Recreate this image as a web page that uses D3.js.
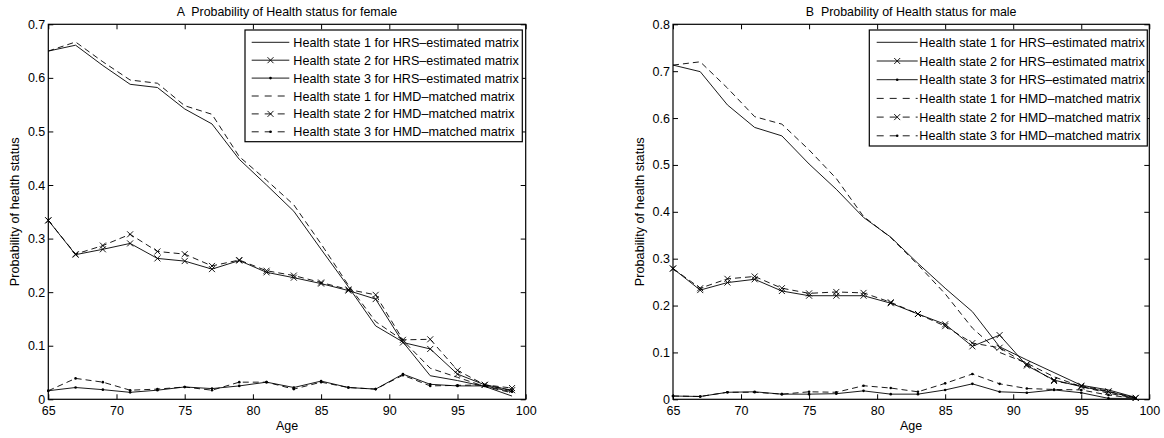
<!DOCTYPE html>
<html>
<head>
<meta charset="utf-8">
<script src="https://cdn.jsdelivr.net/npm/d3@7"></script>
<style>
  html, body { margin: 0; padding: 0; background: #fff; }
  svg { display: block; font-family: "Liberation Sans", Arial, Helvetica, sans-serif; }
</style>
</head>
<body>
<svg id="chart" width="1164" height="438"></svg>
<script>
// ---------------- data ----------------
const ages = [65, 67, 69, 71, 73, 75, 77, 79, 81, 83, 85, 87, 89, 91, 93, 95, 97, 99];
const xTicks = [65, 70, 75, 80, 85, 90, 95, 100];
const yTicksFemale = [0, 0.1, 0.2, 0.3, 0.4, 0.5, 0.6, 0.7];
const yTicksMale = [0, 0.1, 0.2, 0.3, 0.4, 0.5, 0.6, 0.7, 0.8];

const seriesNames = [
  "Health state 1 for HRS\u2013estimated matrix",
  "Health state 2 for HRS\u2013estimated matrix",
  "Health state 3 for HRS\u2013estimated matrix",
  "Health state 1 for HMD\u2013matched matrix",
  "Health state 2 for HMD\u2013matched matrix",
  "Health state 3 for HMD\u2013matched matrix"
];

const femaleHRS1 = [0.650, 0.661, 0.623, 0.588, 0.582, 0.542, 0.514, 0.448, 0.400, 0.351, 0.280, 0.210, 0.137, 0.107, 0.044, 0.035, 0.024, 0.006];
const femaleHRS2 = [0.334, 0.270, 0.280, 0.291, 0.263, 0.258, 0.243, 0.259, 0.237, 0.227, 0.216, 0.203, 0.187, 0.106, 0.094, 0.047, 0.027, 0.017];
const femaleHRS3 = [0.016, 0.022, 0.018, 0.013, 0.017, 0.023, 0.020, 0.025, 0.032, 0.022, 0.034, 0.022, 0.019, 0.047, 0.028, 0.025, 0.025, 0.014];
const femaleHMD1 = [0.650, 0.667, 0.630, 0.596, 0.590, 0.548, 0.532, 0.453, 0.409, 0.363, 0.290, 0.213, 0.145, 0.110, 0.058, 0.041, 0.024, 0.012];
const femaleHMD2 = [0.334, 0.271, 0.287, 0.308, 0.276, 0.271, 0.249, 0.260, 0.240, 0.231, 0.218, 0.205, 0.195, 0.111, 0.112, 0.054, 0.027, 0.021];
const femaleHMD3 = [0.016, 0.039, 0.032, 0.017, 0.019, 0.023, 0.017, 0.032, 0.032, 0.019, 0.032, 0.022, 0.019, 0.045, 0.025, 0.026, 0.027, 0.016];

const maleHRS1 = [0.713, 0.699, 0.628, 0.580, 0.562, 0.502, 0.448, 0.388, 0.346, 0.290, 0.237, 0.187, 0.112, 0.084, 0.057, 0.030, 0.020, 0.004];
const maleHRS2 = [0.279, 0.233, 0.249, 0.256, 0.231, 0.221, 0.221, 0.221, 0.205, 0.182, 0.160, 0.113, 0.137, 0.072, 0.041, 0.027, 0.016, 0.003];
const maleHRS3 = [0.007, 0.006, 0.015, 0.016, 0.011, 0.011, 0.012, 0.018, 0.011, 0.011, 0.020, 0.033, 0.016, 0.014, 0.020, 0.014, 0.002, 0.002];
const maleHMD1 = [0.713, 0.720, 0.664, 0.603, 0.587, 0.532, 0.471, 0.390, 0.345, 0.287, 0.225, 0.152, 0.100, 0.077, 0.048, 0.027, 0.013, 0.002];
const maleHMD2 = [0.279, 0.237, 0.257, 0.262, 0.237, 0.226, 0.229, 0.227, 0.207, 0.182, 0.156, 0.120, 0.110, 0.075, 0.039, 0.029, 0.017, 0.003];
const maleHMD3 = [0.007, 0.006, 0.015, 0.015, 0.011, 0.016, 0.015, 0.029, 0.024, 0.016, 0.034, 0.054, 0.033, 0.023, 0.021, 0.020, 0.009, 0.002];

// ---------------- styles ----------------
const styles = [
  { dash: null, marker: "none" },
  { dash: null, marker: "x" },
  { dash: null, marker: "dot" },
  { dash: "6,4", marker: "none" },
  { dash: "6,4", marker: "x" },
  { dash: "6,4", marker: "dot" }
];

const panels = [
  {
    title: "A  Probability of Health status for female",
    series: [femaleHRS1, femaleHRS2, femaleHRS3, femaleHMD1, femaleHMD2, femaleHMD3],
    yMax: 0.7, yTicks: yTicksFemale,
    x0: 48.3, x1: 525.7, y0: 399.3, y1: 24.3,
    ylabX: 15,
    legend: { x: 245, y: 30, w: 277.3, h: 111.7, rowY0: 42.3, rowDy: 17.9, sx0: 251.7, sx1: 289.3, tx: 293.3 }
  },
  {
    title: "B  Probability of Health status for male",
    series: [maleHRS1, maleHRS2, maleHRS3, maleHMD1, maleHMD2, maleHMD3],
    yMax: 0.8, yTicks: yTicksMale,
    x0: 673, x1: 1149.3, y0: 399.3, y1: 24.3,
    ylabX: 640,
    legend: { x: 869.3, y: 30, w: 278, h: 116, rowY0: 42.3, rowDy: 18.7, sx0: 876.7, sx1: 917.7, tx: 919.3 }
  }
];

const svg = d3.select("#chart");

function drawMarker(g, type, cx, cy) {
  if (type === "x") {
    const s = 3;
    g.append("path")
      .attr("d", `M${cx - s},${cy - s}L${cx + s},${cy + s}M${cx - s},${cy + s}L${cx + s},${cy - s}`)
      .attr("stroke", "#000").attr("stroke-width", 0.9).attr("fill", "none");
  } else if (type === "dot") {
    g.append("circle").attr("cx", cx).attr("cy", cy).attr("r", 1.3).attr("fill", "#000");
  }
}

panels.forEach(p => {
  const g = svg.append("g");
  const x = d3.scaleLinear().domain([65, 100]).range([p.x0, p.x1]);
  const y = d3.scaleLinear().domain([0, p.yMax]).range([p.y0, p.y1]);

  // data lines
  p.series.forEach((vals, i) => {
    const st = styles[i];
    const line = d3.line().x((d, j) => x(ages[j])).y(d => y(d));
    const path = g.append("path").datum(vals)
      .attr("d", line)
      .attr("fill", "none")
      .attr("stroke", "#000")
      .attr("stroke-width", 0.9);
    if (st.dash) path.attr("stroke-dasharray", st.dash);
    if (st.marker !== "none") {
      const mg = g.append("g");
      vals.forEach((v, j) => drawMarker(mg, st.marker, x(ages[j]), y(v)));
    }
  });

  // axes (ticks inward)
  const fs = "12.5px";
  const ax = g.append("g").attr("transform", `translate(0,${p.y0})`)
    .call(d3.axisBottom(x).tickValues(xTicks).tickSizeInner(-5).tickSizeOuter(0).tickPadding(7).tickFormat(d3.format("d")));
  const ay = g.append("g").attr("transform", `translate(${p.x0},0)`)
    .call(d3.axisLeft(y).tickValues(p.yTicks).tickSizeInner(-5).tickSizeOuter(0).tickPadding(3)
      .tickFormat(d => d === 0 ? "0" : d3.format(".1f")(d)));
  const axT = g.append("g").attr("transform", `translate(0,${p.y1})`)
    .call(d3.axisTop(x).tickValues(xTicks).tickSizeInner(-5).tickSizeOuter(0).tickFormat(""));
  const ayR = g.append("g").attr("transform", `translate(${p.x1},0)`)
    .call(d3.axisRight(y).tickValues(p.yTicks).tickSizeInner(-5).tickSizeOuter(0).tickFormat(""));
  [ax, ay, axT, ayR].forEach(a => {
    a.select(".domain").remove();
    a.selectAll("line").attr("stroke", "#000").attr("stroke-width", 1);
    a.selectAll("text").attr("fill", "#000").style("font-size", fs)
      .style("font-family", '"Liberation Sans", Arial, Helvetica, sans-serif');
  });

  // box
  g.append("rect")
    .attr("x", p.x0).attr("y", p.y1)
    .attr("width", p.x1 - p.x0).attr("height", p.y0 - p.y1)
    .attr("fill", "none").attr("stroke", "#000").attr("stroke-width", 1.2);

  // title
  g.append("text").attr("x", (p.x0 + p.x1) / 2).attr("y", 15.5)
    .attr("text-anchor", "middle").style("font-size", "12.4px")
    .style("white-space", "pre").attr("xml:space", "preserve").text(p.title);

  // axis labels
  g.append("text").attr("x", (p.x0 + p.x1) / 2).attr("y", 430)
    .attr("text-anchor", "middle").style("font-size", "12.5px").text("Age");
  g.append("text")
    .attr("transform", `translate(${p.ylabX + 4},${(p.y0 + p.y1) / 2}) rotate(-90)`)
    .attr("text-anchor", "middle").style("font-size", "12.7px").text("Probability of health status");

  // legend
  const L = p.legend;
  const lg = g.append("g");
  lg.append("rect").attr("x", L.x).attr("y", L.y).attr("width", L.w).attr("height", L.h)
    .attr("fill", "#fff").attr("stroke", "#000").attr("stroke-width", 1.2);
  seriesNames.forEach((name, i) => {
    const st = styles[i];
    const ry = L.rowY0 + i * L.rowDy;
    const ln = lg.append("line").attr("x1", L.sx0).attr("x2", L.sx1).attr("y1", ry).attr("y2", ry)
      .attr("stroke", "#000").attr("stroke-width", 0.9);
    if (st.dash) ln.attr("stroke-dasharray", "7,6");
    if (st.marker !== "none") drawMarker(lg, st.marker, (L.sx0 + L.sx1) / 2, ry);
    lg.append("text").attr("x", L.tx).attr("y", ry).attr("dy", "0.36em")
      .style("font-size", "12.6px").text(name);
  });
});
</script>
</body>
</html>
